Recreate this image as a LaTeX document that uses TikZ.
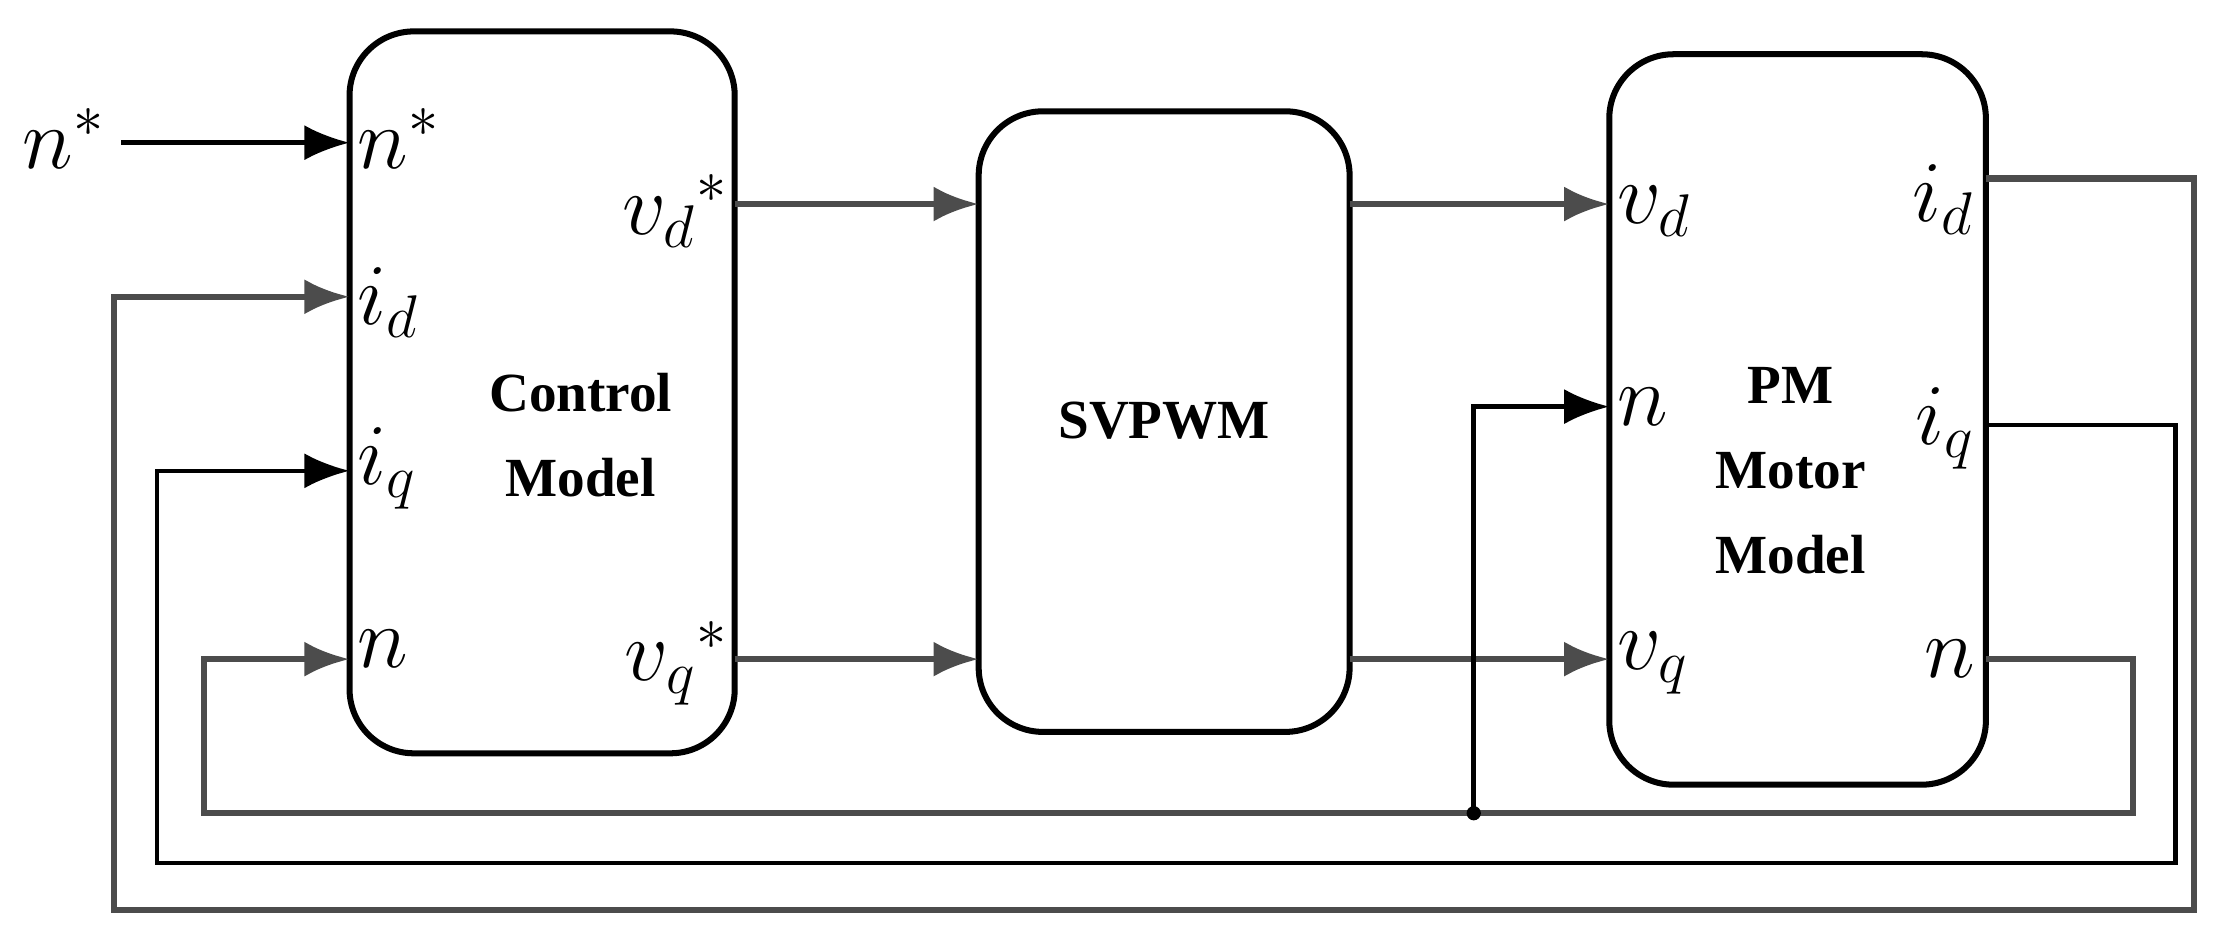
\documentclass[tikz,border=0pt]{standalone}
\usepackage{fontspec}
\setmainfont{Liberation Serif}
\usetikzlibrary{arrows.meta}
\begin{document}
\begin{tikzpicture}[x=0.01cm,y=-0.01cm,
  blk/.style={draw,line width=1.2pt,rounded corners=0.45cm},
  ln/.style={line width=1.3pt,draw=black!70},
  ar/.style={ln,-{Latex[length=9pt,width=7pt]}},
  thin/.style={line width=0.9pt,draw=black},
  lab/.style={font=\fontsize{18}{20}\selectfont,inner sep=0pt},
  txt/.style={font=\fontsize{11}{17}\selectfont\bfseries,align=center}]
\useasboundingbox (0,0) rectangle (1568,656);
\draw[blk] (245,22) rectangle (515,528);
\draw[blk] (686,78) rectangle (946,513);
\draw[blk] (1128,38) rectangle (1392,550);
\node[txt] (cm) at (407,305) {Control\\Model};
\node[txt] (sv) at (816,295) {SVPWM};
\node[txt] (pm) at (1255,330) {PM\\Motor\\Model};
% labels
\node[lab] (nstar) at (45,97) {$n^*$};
\node[lab,anchor=west] (cn) at (250,97) {$n^*$};
\node[lab,anchor=west] (cid) at (250,212) {$i_d$};
\node[lab,anchor=west] (ciq) at (250,328) {$i_q$};
\node[lab,anchor=west] (cnn) at (250,455) {$n$};
\node[lab,anchor=east] (cvd) at (512,148) {$v_d{}^*$};
\node[lab,anchor=east] (cvq) at (512,465) {$v_q{}^*$};
\node[lab,anchor=west] (pvd) at (1133,148) {$v_d$};
\node[lab,anchor=west] (pn) at (1133,285) {$n$};
\node[lab,anchor=west] (pvq) at (1133,465) {$v_q$};
\node[lab,anchor=east] (pid) at (1385,140) {$i_d$};
\node[lab,anchor=east] (piq) at (1385,300) {$i_q$};
\node[lab,anchor=east] (pnn) at (1385,462) {$n$};
% coordinates
\coordinate (a0) at (85,100); \coordinate (a1) at (245,100);
\coordinate (b0) at (515,143); \coordinate (b1) at (686,143);
\coordinate (c0) at (515,462); \coordinate (c1) at (686,462);
\coordinate (d0) at (946,143); \coordinate (d1) at (1128,143);
\coordinate (e0) at (946,462); \coordinate (e1) at (1128,462);
\coordinate (f0) at (1392,125); \coordinate (f1) at (245,208);
\coordinate (g0) at (1392,298); \coordinate (g1) at (245,330);
\coordinate (h0) at (1392,462); \coordinate (h1) at (245,462);
\coordinate (j) at (1033,570); \coordinate (j1) at (1128,285);
\draw[ar,thin] (a0) -- (a1);
\draw[ar] (b0) -- (b1);
\draw[ar] (c0) -- (c1);
\draw[ar] (d0) -- (d1);
\draw[ar] (e0) -- (e1);
\draw[ar] (f0) -- (1538,125) -- (1538,638) -- (80,638) -- (80,208) -- (f1);
\draw[ar,thin] (g0) -- (1525,298) -- (1525,605) -- (110,605) -- (110,330) -- (g1);
\draw[ar] (h0) -- (1495,462) -- (1495,570) -- (143,570) -- (143,462) -- (h1);
\draw[ar,thin] (j) -- (1033,285) -- (j1);
\fill (j) circle (5);
\end{tikzpicture}
\end{document}
